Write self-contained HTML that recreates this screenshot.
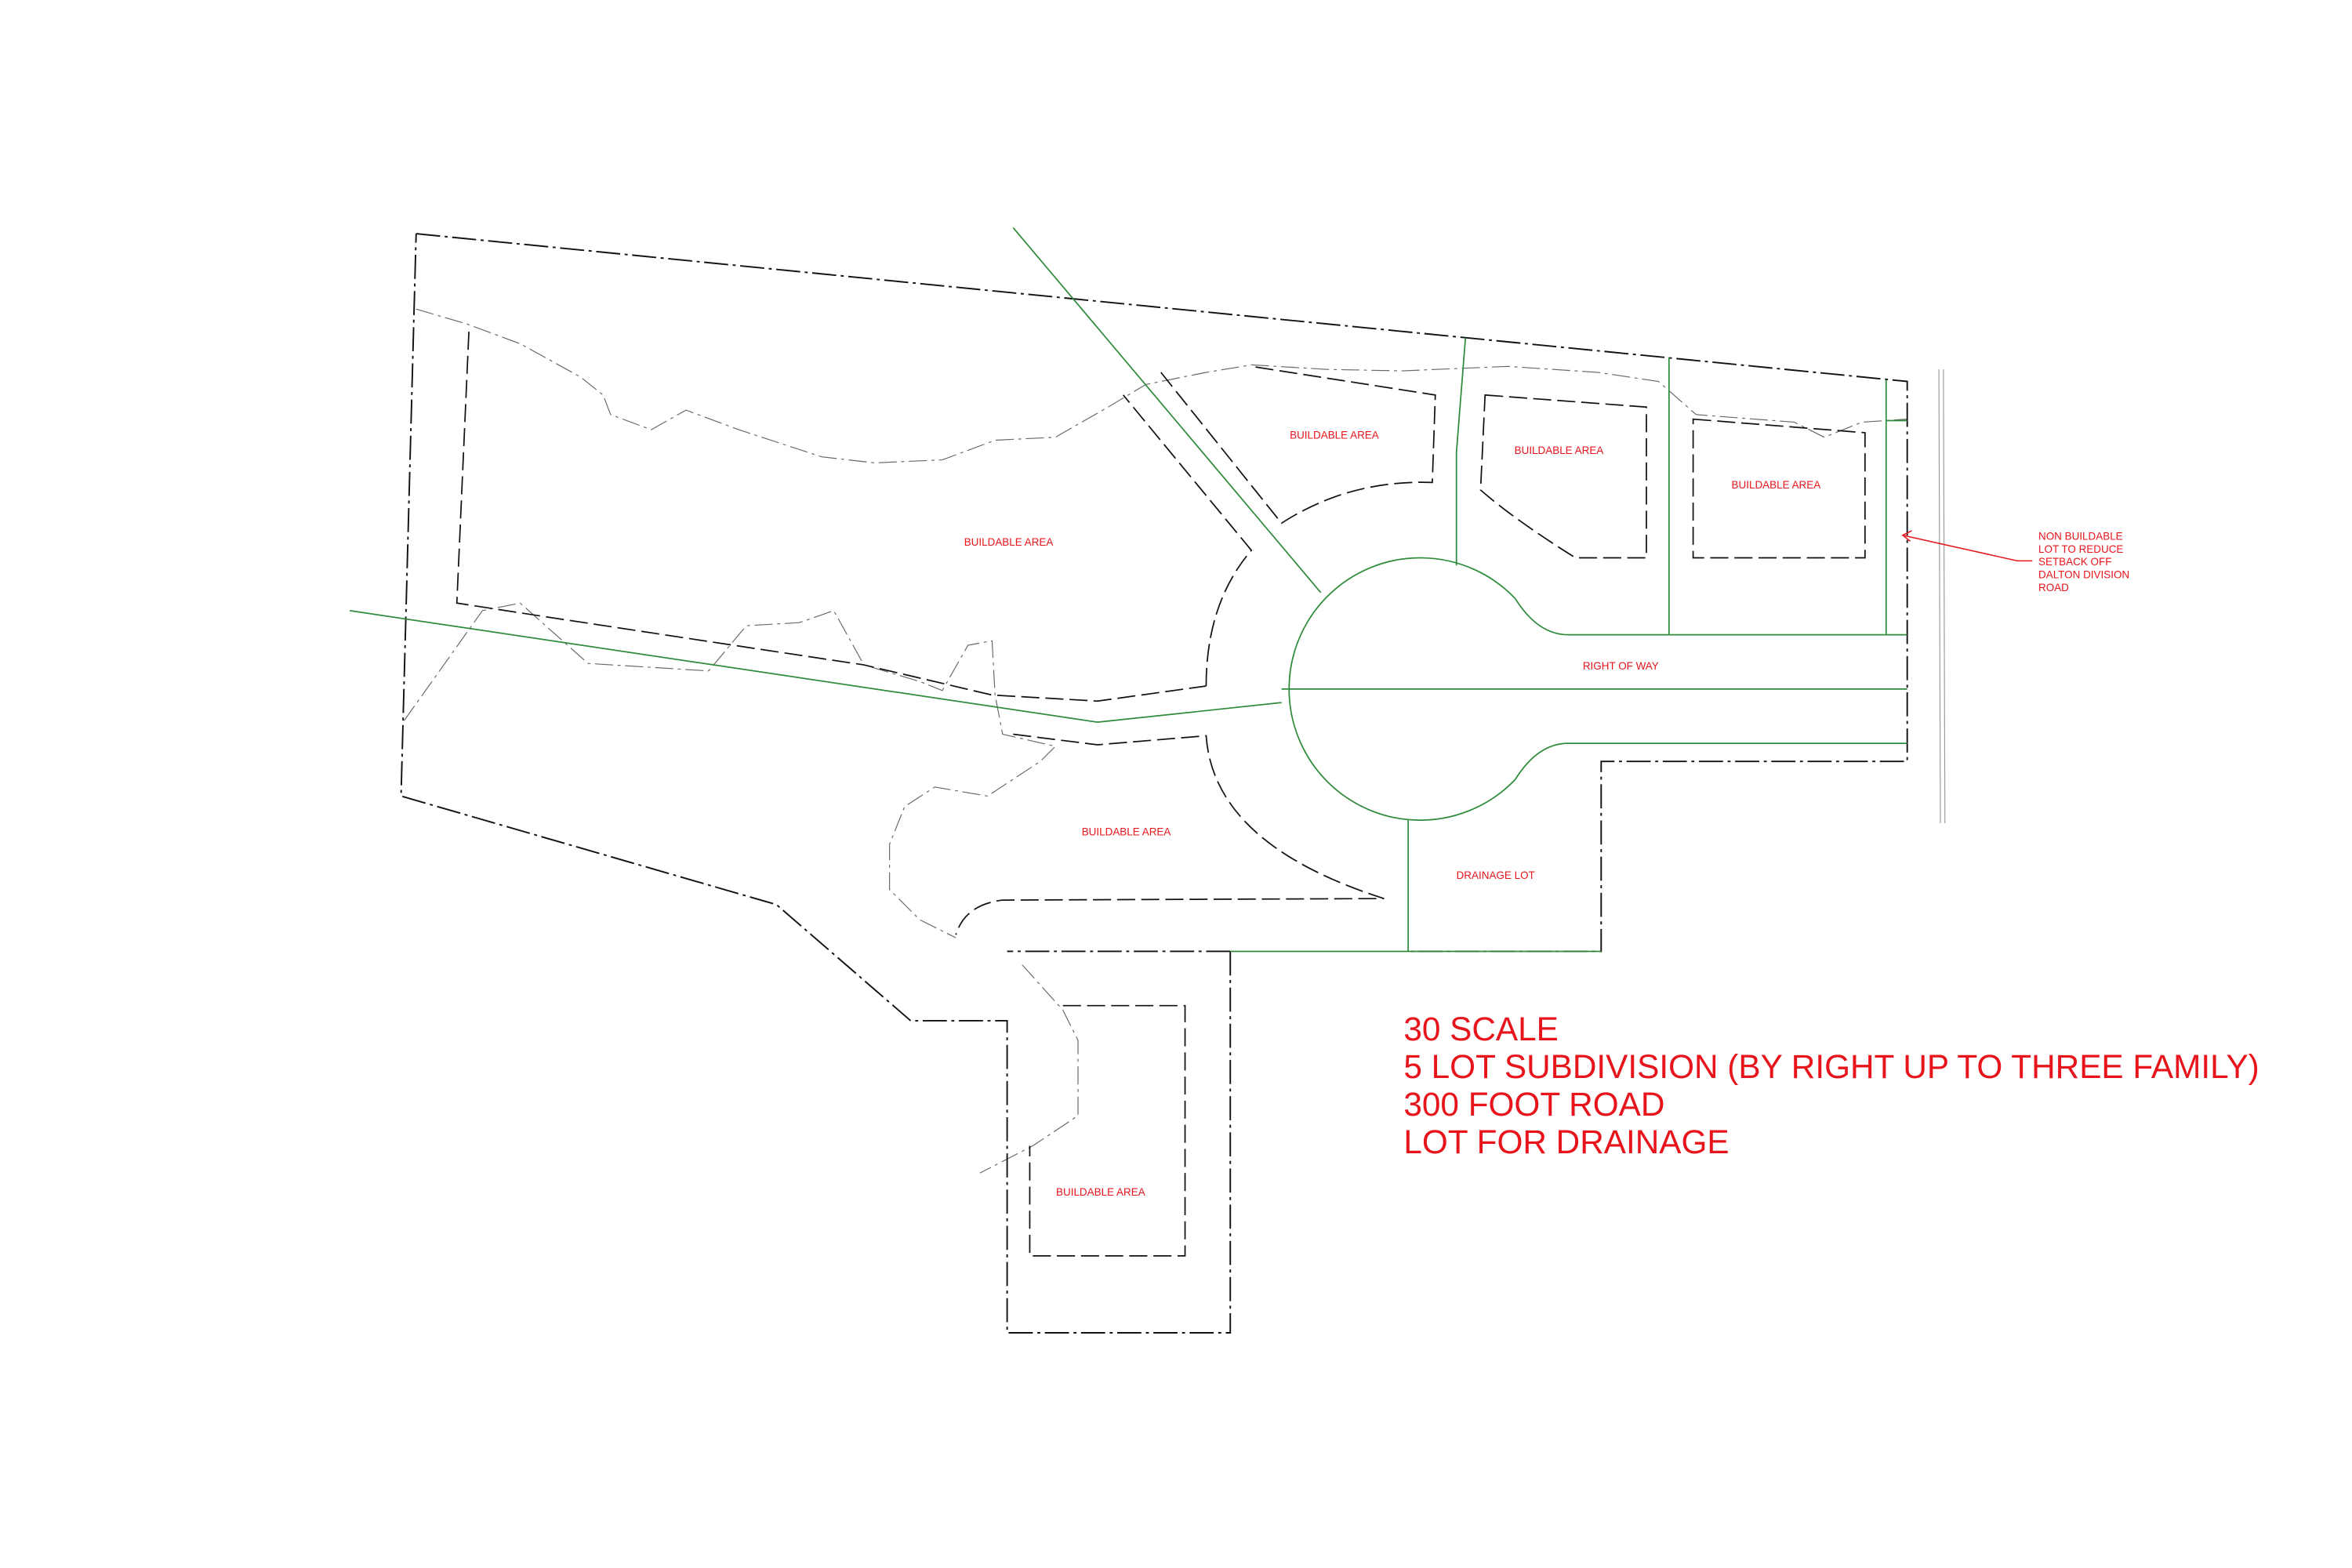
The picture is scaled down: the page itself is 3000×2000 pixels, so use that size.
<!DOCTYPE html>
<html><head><meta charset="utf-8"><style>
html,body{margin:0;padding:0;background:#fff;}
svg{display:block;}
text{font-family:"Liberation Sans",sans-serif;fill:#e8141c;}
</style></head><body>
<svg width="3000" height="2000" viewBox="0 0 1560 1040" xmlns="http://www.w3.org/2000/svg">
<rect width="1560" height="1040" fill="#fff"/>
<line x1="1286" y1="245" x2="1287" y2="546" stroke="#999" stroke-width="0.6"/>
<line x1="1289" y1="245" x2="1290" y2="546" stroke="#999" stroke-width="0.6"/>
<g fill="none" stroke="#666" stroke-width="0.6" stroke-dasharray="12 3 2 3">
<polyline points="276,205 310,215 345,228 385,250 400,262 405,275 432,285 455,272 490,285 545,303 580,307 625,305 660,292 700,290 735,270 760,255 800,247 830,242 880,245 930,246 1000,243 1060,247 1100,253 1125,275 1190,280 1210,290 1235,280 1265,278"/>
<polyline points="268,478 320,405 345,400 390,440 470,445 495,415 530,413 553,405 573,441 610,452 625,458 642,428 658,425 660,461 665,487 700,495 690,505 655,528 620,522 600,535 590,560 590,590 610,610 634,622"/>
<polyline points="678,640 705,670 715,690 715,740 685,760 650,778"/>
</g>
<g fill="none" stroke="#111" stroke-width="1" stroke-dasharray="16 3 2 3">
<polyline points="276,155 1265,253 1265,505 1062,505 1062,631 934,631"/>
<polyline points="816,631 668,631"/>
<polyline points="816,631 816,884 668,884 668,677 604,677 515,600 266,528 276,155"/>
</g>
<g fill="none" stroke="#111" stroke-width="0.9" stroke-dasharray="12 4">
<polyline points="311,220 303,400 368,410 480,427 573,441 658,461 728,465 800,455"/>
<path d="M800,455 Q800,400 830,365 L745,262"/>
<path d="M770,247 L850,347 Q895,318 950,320 L952,262 L830,243"/>
<path d="M985,262 L1092,270 L1092,370 L1045,370 Q1005,345 982,325 Z"/>
<path d="M1123,278 L1237,287 L1237,370 L1123,370 Z"/>
<path d="M672,487 L728,494 L800,488 Q805,560 918,596 L665,597 Q640,600 634,620"/>
<polyline points="705,667 786,667 786,833 683,833 683,760"/>
</g>
<g fill="none" stroke="#2e8b3a" stroke-width="0.9">
<line x1="672" y1="151" x2="876" y2="393"/>
<polyline points="232,405 728,479 850,466"/>
<path d="M1005,397 A87,87 0 1 0 1005,517"/>
<path d="M1005,397 Q1020,421 1040,421 L1265,421"/>
<path d="M1005,517 Q1020,493 1040,493 L1265,493"/>
<line x1="850" y1="457" x2="1265" y2="457"/>
<path d="M972,224 L966,300 L966,375"/>
<line x1="1107" y1="237" x2="1107" y2="421"/>
<line x1="1251" y1="252" x2="1251" y2="421"/>
<line x1="1251" y1="279" x2="1265" y2="279"/>
<line x1="934" y1="544" x2="934" y2="631"/>
<line x1="816" y1="631" x2="1062" y2="631"/>
</g>
<polyline points="1348,372 1338,372 1262,355" fill="none" stroke="#e8141c" stroke-width="0.8"/>
<polyline points="1268,352 1262,355 1267,359" fill="none" stroke="#e8141c" stroke-width="0.8"/>
<g font-size="7" text-anchor="middle">
<text x="669" y="362">BUILDABLE AREA</text>
<text x="885" y="291">BUILDABLE AREA</text>
<text x="1034" y="301">BUILDABLE AREA</text>
<text x="1178" y="324">BUILDABLE AREA</text>
<text x="747" y="554">BUILDABLE AREA</text>
<text x="730" y="793">BUILDABLE AREA</text>
<text x="1075" y="444">RIGHT OF WAY</text>
<text x="992" y="583">DRAINAGE LOT</text>
</g>
<g font-size="7">
<text x="1352" y="358">NON BUILDABLE</text>
<text x="1352" y="366.5">LOT TO REDUCE</text>
<text x="1352" y="375">SETBACK OFF</text>
<text x="1352" y="383.5">DALTON DIVISION</text>
<text x="1352" y="392">ROAD</text>
</g>
<g font-size="22">
<text x="931" y="690">30 SCALE</text>
<text x="931" y="715">5 LOT SUBDIVISION (BY RIGHT UP TO THREE FAMILY)</text>
<text x="931" y="740">300 FOOT ROAD</text>
<text x="931" y="765">LOT FOR DRAINAGE</text>
</g>
</svg>
</body></html>
